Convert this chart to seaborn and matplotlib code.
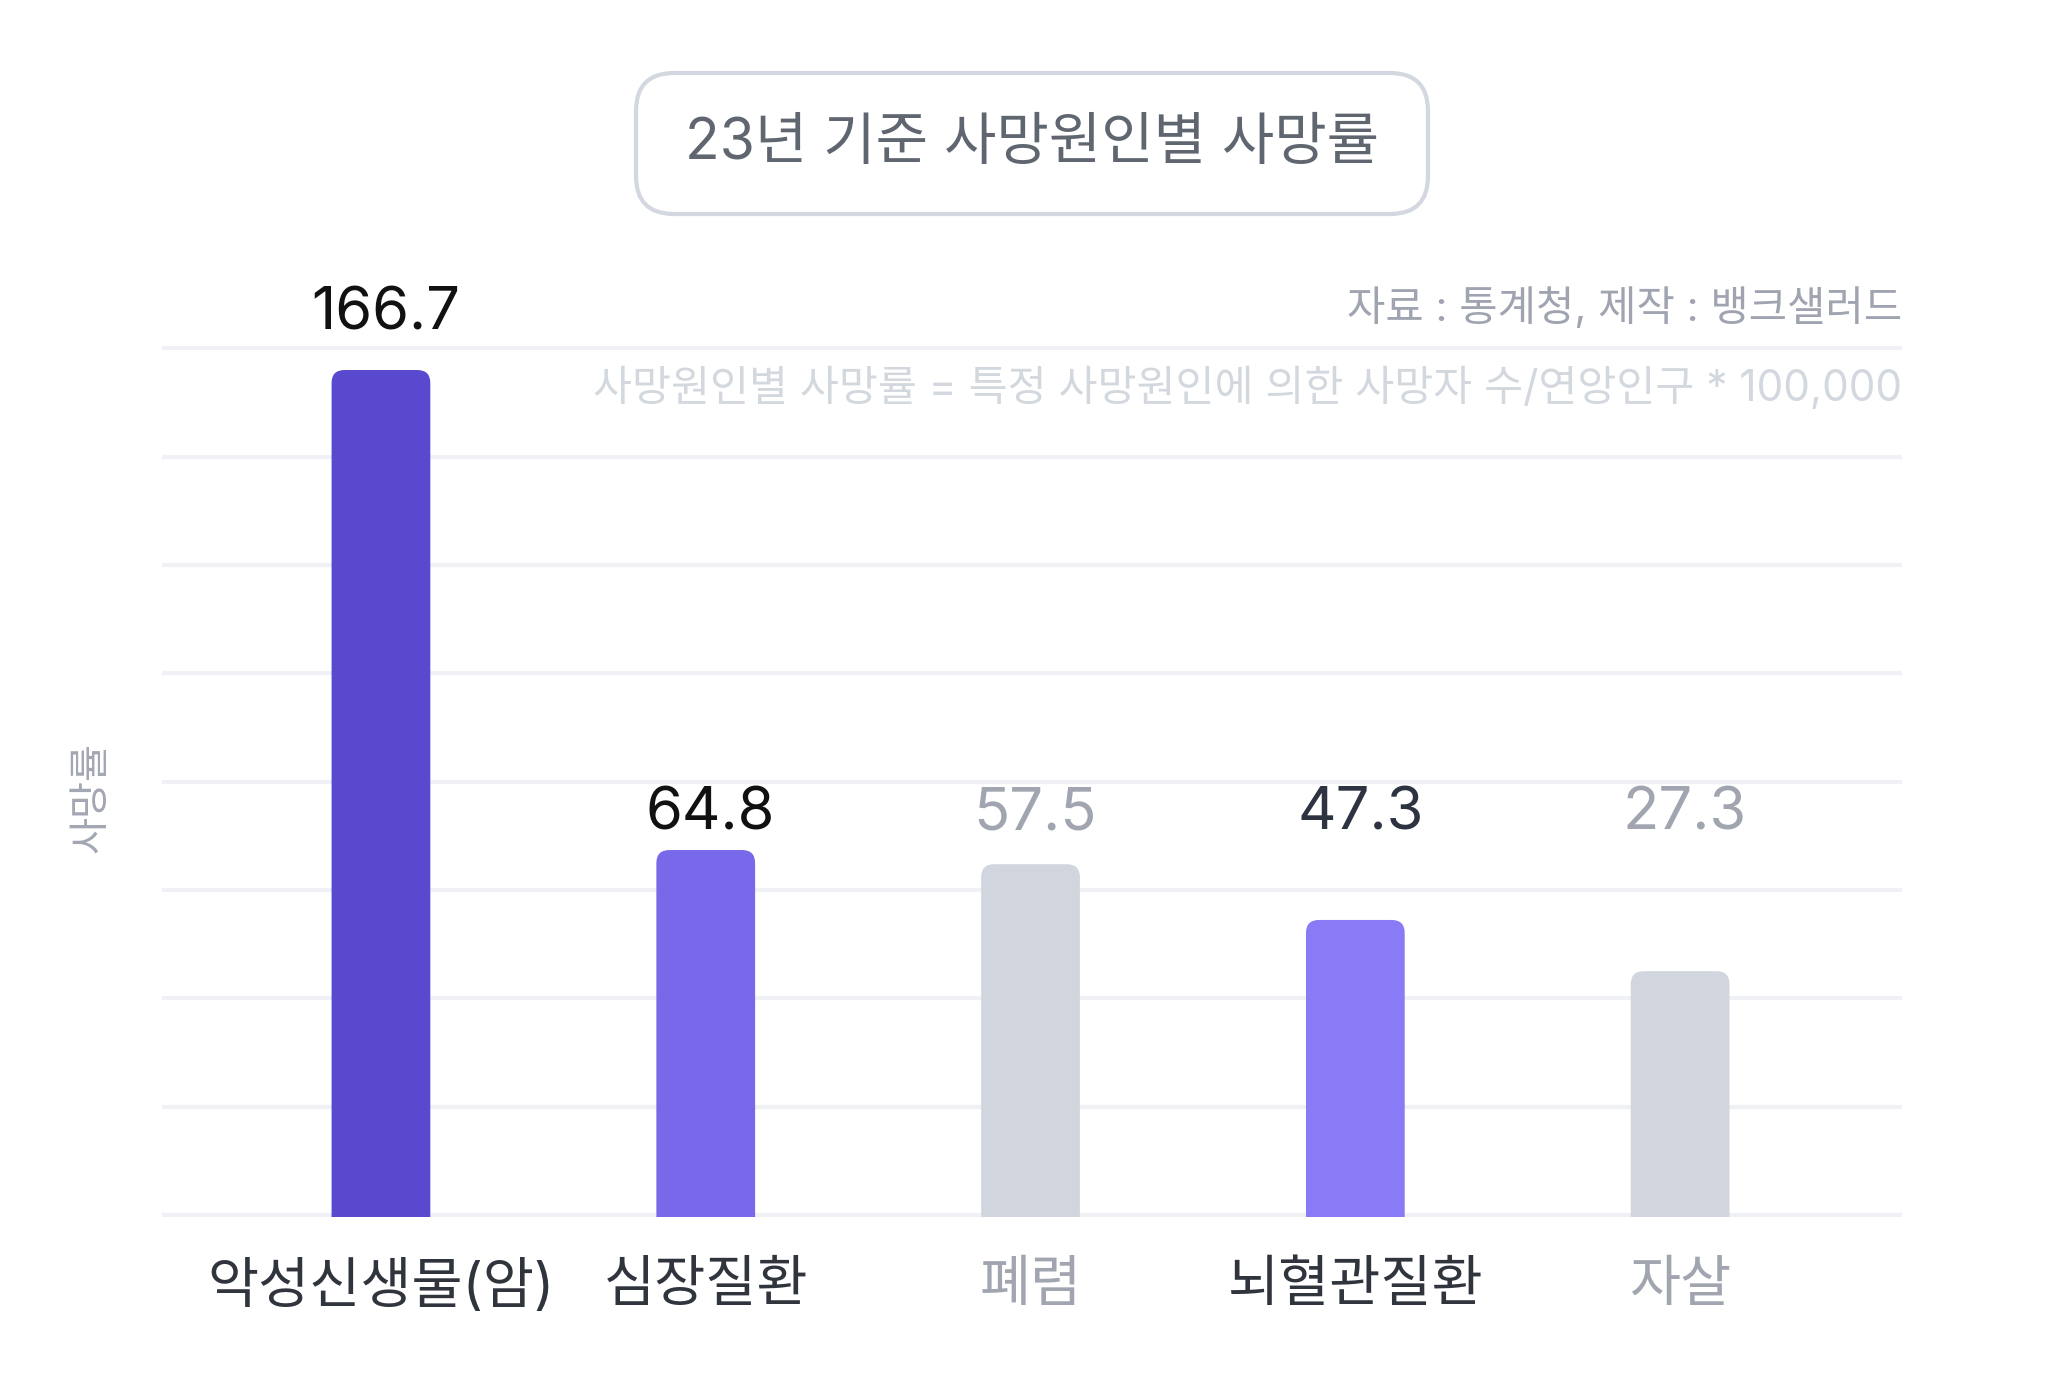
import matplotlib
matplotlib.use("Agg")
import matplotlib.pyplot as plt
import seaborn as sns
from matplotlib.patches import FancyBboxPatch

# data
causes = ['악성신생물(암)', '심장질환', '폐렴', '뇌혈관질환', '자살']
rates = [166.7, 64.8, 57.5, 47.3, 27.3]
# drawn bar heights (the picture's bars are not strictly proportional to the labels)
bar_heights = [166.7, 72.0, 69.2, 58.2, 48.1]

bar_colors = ['#5849CE', '#7769E9', '#D1D6DE', '#887BF5', '#D1D6DE']
value_colors = ['#111111', '#111111', '#A0A5AF', '#2D3340', '#A0A5AF']
tick_colors = ['#30343D', '#30343D', '#A0A5AF', '#30343D', '#A0A5AF']

title = '23년 기준 사망원인별 사망률'
source = '자료 : 통계청, 제작 : 뱅크샐러드'
formula = '사망원인별 사망률 = 특정 사망원인에 의한 사망자 수/연앙인구 * 100,000'


def main():
    sns.set_theme(style='white')
    plt.rcParams['font.family'] = ['Inter', 'Noto Sans CJK KR', 'DejaVu Sans']

    W, H = 2064, 1377
    fig = plt.figure(figsize=(W / 100, H / 100), dpi=100)
    fig.patch.set_facecolor('white')
    ax_box = [0.0785, 0.1162, 0.8430, 0.6346]
    ax = fig.add_axes(ax_box)

    sns.barplot(x=causes, y=bar_heights, hue=causes, palette=bar_colors,
                legend=False, width=0.304, saturation=1, ax=ax)

    xlim = (-0.674, 4.683)
    ylim = (-0.4, 172.0)
    ax.set_xlim(*xlim)
    ax.set_ylim(*ylim)

    grid_top = 171.0
    ax.set_yticks([grid_top * i / 8 for i in range(9)])
    ax.set_yticklabels([])
    ax.tick_params(axis='y', length=0)
    ax.grid(axis='y', color='#F0F1F5', linewidth=3, solid_capstyle='butt')
    ax.grid(axis='x', visible=False)
    ax.set_axisbelow(True)
    for s in ax.spines.values():
        s.set_visible(False)

    # rounded top corners on the bars; the bottom rounding sits below the axes and is clipped
    px_x = ax_box[2] * W / (xlim[1] - xlim[0])
    px_y = ax_box[3] * H / (ylim[1] - ylim[0])
    aspect = px_x / px_y
    r = 13 / px_x
    drop = 5.0
    for p, c in zip(list(ax.patches), bar_colors):
        x0, w, h = p.get_x(), p.get_width(), p.get_height()
        p.set_visible(False)
        ax.add_patch(FancyBboxPatch((x0, -drop), w, h + drop,
                                    boxstyle=f"round,pad=0,rounding_size={r}",
                                    mutation_aspect=aspect, facecolor=c,
                                    edgecolor='none', zorder=2))

    # value labels: the tallest bar gets its own, the rest share one level
    label_level = max(bar_heights[1:]) + 7.1
    for i, (v, h) in enumerate(zip(rates, bar_heights)):
        y = h + 11 if i == 0 else label_level
        ax.text(i + 0.015, y, f'{v}', ha='center', va='center', fontsize=43,
                color=value_colors[i], clip_on=False)

    ax.set_xlabel('')
    ax.tick_params(axis='x', length=0, pad=31, labelsize=40)
    for lbl, c in zip(ax.get_xticklabels(), tick_colors):
        lbl.set_color(c)

    ax.set_ylabel('사망률', fontsize=29, color='#A3A7B3', va='center')
    ax.yaxis.set_label_coords(-0.0402, 0.4805)

    # source and formula notes
    fig.text(1902 / W, 1 - 308 / H, source, ha='right', va='center',
             fontsize=30, color='#A0A4B0')
    fig.text(1902 / W, 1 - 388 / H, formula, ha='right', va='center',
             fontsize=30.5, color='#D3D8DF')

    # title in a rounded box
    bx0, by0, bw, bh = 636 / W, 1 - 214 / H, 792 / W, 141 / H
    fig.patches.append(FancyBboxPatch((bx0, by0), bw, bh,
                                      boxstyle=f"round,pad=0,rounding_size={38 / W}",
                                      mutation_aspect=W / H,
                                      transform=fig.transFigure,
                                      facecolor='white', edgecolor='#D3D8E0',
                                      linewidth=3))
    fig.text(bx0 + bw / 2, by0 + bh / 2, title, ha='center', va='center',
             fontsize=41, color='#5F6670')

    fig.savefig('out.png', dpi=100, facecolor='white')


main()
